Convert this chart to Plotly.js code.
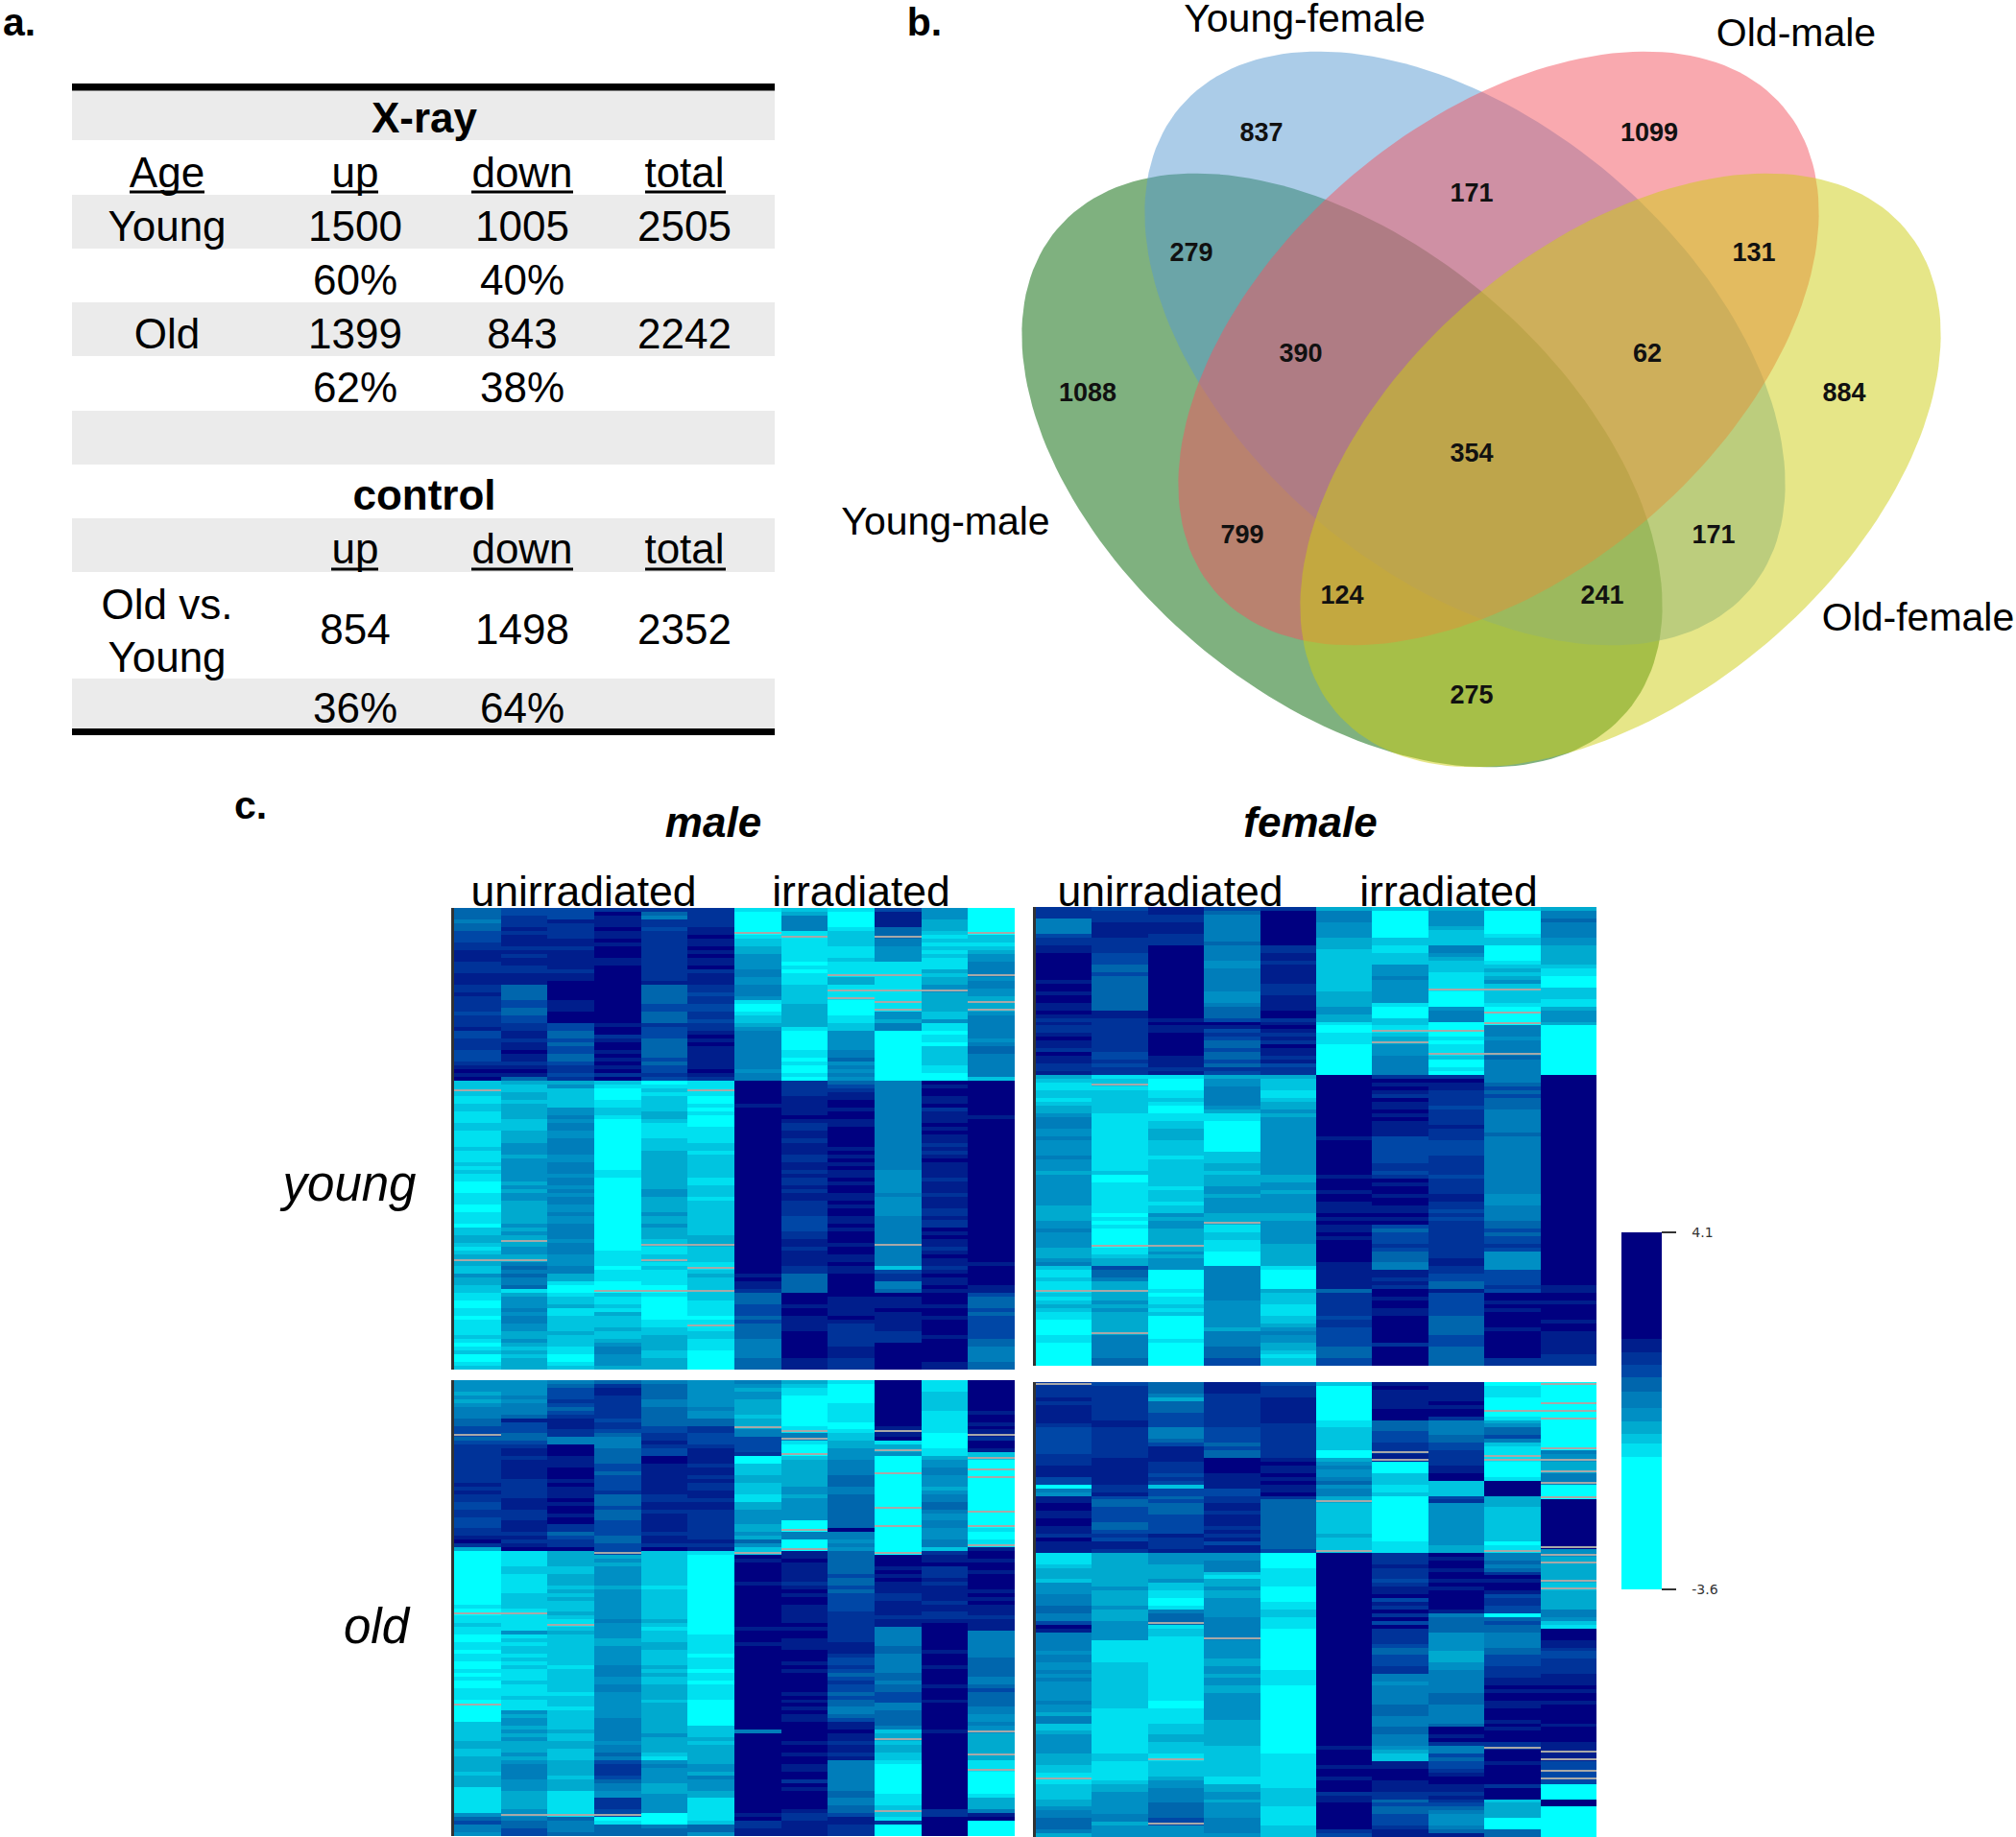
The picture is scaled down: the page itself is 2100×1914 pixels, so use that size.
<!DOCTYPE html>
<html>
<head>
<meta charset="utf-8">
<script src="https://cdn.plot.ly/plotly-3.0.1.min.js"></script>
<style>html,body{margin:0;padding:0;background:#fff}</style>
</head>
<body>
<div id="chart" style="width:2100px;height:1914px"></div>
<script>
// ---------- a. table ----------
const tableHeads = ["X-ray", "control"];
const tableBody = [
  "Age", "up", "down", "total",
  "Young", "1500", "1005", "2505",
  "60%", "40%",
  "Old", "1399", "843", "2242",
  "62%", "38%",
  "up", "down", "total",
  "Old vs.", "Young", "854", "1498", "2352",
  "36%", "64%"
];
// ---------- b. venn ----------
const vennSets = ["Young-male", "Young-female", "Old-male", "Old-female"];
const vennCounts = ["837", "1099", "171", "279", "131", "390", "62", "1088", "884", "354", "799", "171", "124", "241", "275"];
// ---------- c. heatmap labels ----------
const sexLabels = ["male", "female"];
const treatLabels = ["unirradiated", "irradiated", "unirradiated", "irradiated"];
const ageLabels = ["young", "old"];
const panelLetters = ["a.", "b.", "c."];
const colorbarTicks = [-3.6, 4.1];
const colorbarBounds = [-3.6, -0.75, -0.45, -0.24, 0.03, 0.32, 0.67, 0.97, 1.24, 1.51, 1.81, 4.1];
const levelValues = [-2.2, -0.6, -0.35, -0.1, 0.18, 0.5, 0.82, 1.1, 1.38, 1.66, 3.0];

// Expression levels, one string per sample column, top row first.
// 0 = lowest (cyan) ... 9, A = highest (navy), - = thin missing line (grey).
const youngMale = [
"6665667778 8999888999 8898888788 8977888777 89A9A22-21 1221112211 1121112121 1000111001 1102233212 3-32243322 1100110111 1210120012",
"7788898999 8989988999 6666776677 8899899A99 89A9632233 2333322233 3444344444 4343443333 334343-344 3-56565561 3444545544 3343232333",
"7779888899 899999899A AAAA999AAA 7766767766 7887834222 2244545544 5555445554 5545455445 4455554555 4445533100 1223112222 3222110012",
"8A999A99A9 AAA99AAAAA AAAAAAAAAA 9AA89AA9A9 A9A8A21000 1122100000 0000000011 0000000000 0000000001 111011100- 2112132223 2234554443",
"8658878888 8888888889 6666677666 8777666667 6778701212 2223321111 2223333333 3334433334 3343332-11 2-1211110- 1000000112 2333322333",
"8888899A99 A9A99A8999 8878877887 889A9A9999 99A9811-10 0101000111 1221222222 1122212222 2222233-22 221-23222- 22111101-1 2211100000",
"100000-122 3344445544 5554100122 3455555555 55455AAAAA A9AAAAAAAA AAAAAAAAAA AAAAAAAAAA AAAAAAAAAA AAAAA9A998 6667776766 6655555666",
"2355551-11 1111010111 2222233333 3100000110 1001088889 9999A98899 8999889989 8898998888 7777889989 9998866666 AAA9AA9999 AAAAAAA999",
"1000012222 1112111-33 1-1-000011 2244444556 4545467899 AA9AA99AAA AA9A9A9A99 A9AA99A9AA 99A9AAA9AA 99A99AAAAA A99999A988 8888999888",
"7999966-55 4444111-11 1-11-1-443 5500000000 0000055555 5555555555 5555555544 4444544444 5555555-55 5552788556 A999A99999 888AAAAAAA",
"4443332121 2121113233 4-33333224 1101102222 21100A9AA9 9A8999A9A9 98989A9999 8999899988 988A9A9989 A9989A99A9 AAA9AA9AAA A9AAAAAA99",
"000000-221 2344555-45 5443-3-455 5555456655 55552AAAAA AAAA9AAAAA AAAAAAAAAA AAAAAAAAAA AAAAAAAAAA AA9AAAAA99 7666767777 7766555566"
];
const youngFemale = [
"8885555788 99AAAAAAA9 AA9AA99A98 9889A998A9 9889321122 1233455544 5444454443 4444444433 3344544443 3345211211 -212321100 0011000000",
"7888999988 8877766766 6666666998 8888888877 878812-122 2222111111 1111111112 0011111111 01010000-1 1233766533 -334343333 3-55555566",
"9988999888 AAAAAAAAAA AAAAAAAAA9 A99AAAAAA9 9989100011 2100112233 3222212222 2221222122 43443333-3 4344400000 1011212000 0001000000",
"7655555556 5555445555 5544456667 A978766766 7687344555 5543110000 0000222332 3334434444 33-1122111 0000555555 5554444444 3555566677",
"8AAAAAAAAA 8899899999 8889999AA8 9A9898A998 9788322211 2334344444 4444444444 3344344444 3344444433 3333100000 3222111223 4544332122",
"3555444433 3222222222 2233334433 1001110000 0000AAAAAA AAAAAAAAAA 9AAAAAAAAA 9AAA9AA999 A9A99A9AAA AAA9999999 6888888788 7777766677",
"2000000022 1122244454 4444410002 21-23-4445 55558A9A98 A99A9A9999 7777777887 8A9AA9AA99 A9A7677787 6665599898 AA9AA99AAA AAAA8AAAAA",
"3444432222 5543222111 1-00004555 00-01011-2 00108A9988 8878888988 8777788888 7888899887 8788888888 8899887766 9777777666 6677766666",
"2000000122 0000123234 2-22210-00 -5554555-6 5555556767 6665555556 5555555555 5555544455 5566767787 4444477778 7AA9A9AAAA 9AAAAAAA88",
"3556555544 3333321100 0222113444 3000000000 0000AAAAAA AAAAAAAAAA AAAAAAAAAA AAAAAAAAAA AAAAAAAAAA AAAAAAAAA9 9AA9AAAA9A A999999888"
];
const oldMale = [
"4443434555 6677-67888 8888888989 8877887778 89A8300000 0000000001 0-11211001 1011001010 01110-0000 2222233223 3332333111 1111467554",
"4444545556 9777667899 8999998888 8999888999 8989A11112 2111112222 1-11114121 2212121112 1112111434 4343433343 4555544433 3334-56677",
"5677787678 9998855AAA 999AAA9A99 9A9AA9AA88 6788A33332 2333232322 2321-23222 2222212222 2212221222 2232233222 3333233311 1111-65556",
"6899888888 7887655566 6677677778 6667666777 76677-3434 4444344444 4445444433 4444455544 5544444445 5555545565 7888765544 8887-01666",
"5666655666 6677889877 AA99999999 8899899999 8998A22222 2222122222 2223212223 3222232322 3333233333 3334333321 4544443334 4444000566",
"4444444544 6688777899 9989989889 9899888888 8898910000 0000000000 0000000111 1101110110 1111000000 0222323333 3443544433 1111112664",
"5434433332 33-5577778 0022233222 1133444433 43642-A9AA AAA9AAAAAA AAAAA9AAA9 AAAAAAAAAA AAAAAAAAAA AA5AAAAAAA AAAAAAAAAA AAAA9A8899",
"3211000000 001-5-100- 2333333344 344444400- 5500-99A99 99989A9AA9 9999A9AA99 9AAA9A9AAA AA9A9A9A99 AAAAA9AA9A A99AA8A9AA AAA9889999",
"1000001111 1001223344 4555566655 666666666A 5545466666 6766767777 7888888889 9987787678 7767665567 99A9989989 5555555566 5566799888",
"AAAAAAAAAA AA9-9A13-4 0000-00000 000-0000-0 00000-AAA9 A9A9998899 9989955555 6655555665 6677755666 6523-23322 1000000001 112-218000",
"1112222211 1111000011 3445544434 5566544554 44552899A8 8898999989 9889AAAAAA A9AAA9AAAA 9AAA9AAAAA AA9AAAAAAA AAAAAAAAAA AAA88AAAAA",
"AAAAAAAA9A A9A9-8AA92 -00-0-0000 0000-000-1 001-9AA9AA 9AAAA9A9A9 9989995555 5556666655 6766665544 54-33333-3 11-0000001 33359A0000"
];
const oldFemale = [
"-888989999 9877777778 8899977054 99AA99AA99 8A99911123 3324445556 6557A95555 5455445454 4444544355 2234444433 3221-12222 3345566653",
"7888888888 9988888888 9999999889 7667777667 8799833333 3333433334 3334444411 1111222222 2222221111 1111111122 1111123344 4444553444",
"6665366677 7755567999 9888787277 6766677777 9888944433 3342211001 566-122111 1111111111 1111001111 222332221- 2222344555 566667-444",
"9998888888 8877776766 AAAA999977 8899899989 8979944555 2133433444 4455555-44 4443344344 3344444443 3333332222 2222113344 3444455554",
"7888999999 9888888888 9A99A9A99A 8666666666 6666700001 1111000011 2211100000 0000001111 0000000000 0000000011 1111111222 2211111222",
"2000000000 1122222200 3454456455 3-22222222 3222-AAAAA AAAAAAAAAA AAAAAAAAAA AAAAAAAAAA AAAAAAAAAA AAAAAA9AAA A9AA9AAA89 9AAAAAAA87",
"9A99999AAA 66677788-9 -000222112 0000000000 0011188898 887899A798 A8A7A88887 6677788554 5555566655 5665554322 99AAA99988 6766777899",
"99999A9AA8 5555667788 8899AA2222 7844444444 44433A9AA9 AA9A9AAAAA 9566664444 4333445555 5566655555 6AA9A85576 7789AA9989 8765444569",
"0111000-01 346675211- -00001AAAA 3332222222 2201-55656 8A9AA97887 7067665555 6677788899 A9AA99AAA9 A9AAA8-AAA 9AAAAA8AAA 2333300066",
"-0000-0-0- 0000000-54 -33-55-000 -AAAAAAAAA AAA-4-3-33 33-2-33333 55421AAA99 8778888999 A9AA9AAAAA 9AAAA99-9- 77-7-70000 AA00000000"
];

// ---------- styling and layout constants (page pixels) ----------
const W = 2100, H = 1914;
const SUBROWS = 4;
const levelColors = ["#00FFFF","#00E0F0","#00C4E0","#00AACF","#008FC4","#007DBA","#0066AD","#0047A6","#003399","#001E8C","#000080"];
const SANS = '"Liberation Sans", Arial, sans-serif';
const panels = [
  {data: youngMale,   px: [473, 1057, 946, 1427]},
  {data: youngFemale, px: [1079, 1663, 945, 1423]},
  {data: oldMale,     px: [473, 1057, 1438, 1913]},
  {data: oldFemale,   px: [1079, 1663, 1440, 1914]}
];
const vennGeom = [
  {cx: 1398, cy: 490, tilt: 40.3, color: "rgba(0,100,0,0.5)"},
  {cx: 1526, cy: 363, tilt: 40.3, color: "rgba(87,153,209,0.5)"},
  {cx: 1561, cy: 363, tilt: -40.3, color: "rgba(243,83,95,0.5)"},
  {cx: 1688, cy: 490, tilt: -40.3, color: "rgba(205,205,17,0.5)"}
];
const vennSemi = [389, 236];
const vennLabelX = [985, 1359, 1871, 1998], vennLabelY = [542, 18, 33, 642];
const vennCountX = [1314,1718,1533,1241,1827,1355,1716,1133,1921,1533,1294,1785,1398,1669,1533];
const vennCountY = [137,137,200,262,262,367,367,408,408,471,556,556,619,619,723];
const tableHeadX = [442, 442], tableHeadY = [122, 515];
const tableBodyX = [174,370,544,713, 174,370,544,713, 370,544, 174,370,544,713, 370,544, 370,544,713, 174,174,370,544,713, 370,544];
const tableBodyY = [179,179,179,179, 235,235,235,235, 291,291, 347,347,347,347, 403,403, 571,571,571, 629,684,655,655,655, 737,737];
const tableBands = [[94.5,146],[203,259],[315,371],[428,484],[540,596],[707,759]];
const tableRules = [[87,94.5],[759,766]];
const tableUnder = [[135,213,200],[345,394,200],[491,597,200],[672,756,200],[345,394,593],[491,597,593],[672,756,593]];

// ---------- traces ----------
function textTrace(x, y, text, size, weight, style, color) {
  const dy = size * 0.11;
  return {type: "scatter", mode: "text", x: x, y: y.map(v => v + dy), text: text, xaxis: "x", yaxis: "y",
    textposition: "middle center", cliponaxis: false, showlegend: false, hoverinfo: "skip",
    textfont: {family: SANS, size: size, weight: weight, style: style, color: color || "#000"}};
}
function ellipse(g) {
  const t = g.tilt * Math.PI / 180, xs = [], ys = [];
  for (let i = 0; i <= 180; i++) {
    const u = i / 180 * 2 * Math.PI;
    const a = vennSemi[0] * Math.cos(u), b = vennSemi[1] * Math.sin(u);
    xs.push(g.cx + a * Math.cos(t) - b * Math.sin(t));
    ys.push(g.cy + a * Math.sin(t) + b * Math.cos(t));
  }
  return {type: "scatter", mode: "lines", x: xs, y: ys, fill: "toself", fillcolor: g.color,
    line: {width: 0}, xaxis: "x", yaxis: "y", showlegend: false, hoverinfo: "skip"};
}
// Each read row is drawn as SUBROWS thin rows; a "-" row keeps the colour of its neighbours
// with only a thin grey (missing) line through its middle.
function toZ(cols) {
  const parsed = cols.map(c => c.replace(/ /g, ""));
  const n = Math.max.apply(null, parsed.map(c => c.length));
  const val = ch => levelValues[ch === "A" ? 10 : +ch];
  const z = [];
  for (let r = 0; r < n; r++) {
    for (let s = 0; s < SUBROWS; s++) {
      z.push(parsed.map(c => {
        const ch = c[r] === undefined ? c[c.length - 1] : c[r];
        if (ch !== "-") return val(ch);
        if (s === 1 || s === 2) return null;
        let k = r;
        while (k >= 0 && c[k] === "-") k--;
        if (k < 0) { k = r; while (c[k] === "-") k++; }
        return val(c[k]);
      }));
    }
  }
  return z;
}

const traces = [];
vennGeom.forEach(g => traces.push(ellipse(g)));
traces.push(textTrace(tableHeadX, tableHeadY, tableHeads, 44, 700, "normal"));
traces.push(textTrace(tableBodyX, tableBodyY, tableBody, 44, 400, "normal"));
traces.push(textTrace(vennLabelX, vennLabelY, vennSets, 41, 400, "normal"));
traces.push(textTrace(vennCountX, vennCountY, vennCounts, 27, 700, "normal", "#111"));
traces.push(textTrace([20, 963, 261], [22, 22, 838], panelLetters, 41, 700, "normal"));
traces.push(textTrace([743, 1365], [856, 856], sexLabels, 44, 700, "italic"));
traces.push(textTrace([608, 897, 1219, 1509], [928, 928, 928, 928], treatLabels, 44.5, 400, "normal"));
traces.push(textTrace([364, 392], [1233, 1694], ageLabels, 51, 400, "italic"));

const layout = {
  width: W, height: H, autosize: false,
  margin: {l: 0, r: 0, t: 0, b: 0, pad: 0, autoexpand: false},
  paper_bgcolor: "#fff", plot_bgcolor: "rgba(0,0,0,0)",
  showlegend: false,
  font: {family: SANS},
  xaxis: {range: [0, W], domain: [0, 1], visible: false, fixedrange: true},
  yaxis: {range: [H, 0], domain: [0, 1], visible: false, fixedrange: true},
  shapes: [],
  coloraxis: {
    cmin: colorbarBounds[0], cmax: colorbarBounds[colorbarBounds.length - 1],
    colorscale: (function () {
      const lo = colorbarBounds[0], span = colorbarBounds[colorbarBounds.length - 1] - lo, out = [];
      levelColors.forEach((c, i) => {
        out.push([(colorbarBounds[i] - lo) / span, c]);
        out.push([(colorbarBounds[i + 1] - lo) / span, c]);
      });
      return out;
    })(),
    colorbar: {
      x: 1689 / W, xanchor: "left", xref: "paper", y: 1 - 1284 / H, yanchor: "top", yref: "paper",
      len: 372, lenmode: "pixels", thickness: 42, thicknessmode: "pixels",
      xpad: 0, ypad: 0, outlinewidth: 0, borderwidth: 0,
      ticks: "outside", ticklen: 15, tickwidth: 1.5, tickcolor: "#333",
      tickmode: "array", tickvals: colorbarTicks, ticktext: colorbarTicks.map(v => "\u2003" + v.toFixed(1)),
      tickfont: {family: '"DejaVu Sans", sans-serif', size: 14, color: "#333"}
    }
  }
};

// table shapes
tableBands.forEach(b => layout.shapes.push({type: "rect", xref: "x", yref: "y", x0: 75, x1: 807, y0: b[0], y1: b[1],
  fillcolor: "#EBEBEB", line: {width: 0}, layer: "below"}));
tableRules.forEach(b => layout.shapes.push({type: "rect", xref: "x", yref: "y", x0: 75, x1: 807, y0: b[0], y1: b[1],
  fillcolor: "#000", line: {width: 0}, layer: "below"}));
tableUnder.forEach(u => layout.shapes.push({type: "line", xref: "x", yref: "y", x0: u[0], x1: u[1], y0: u[2], y1: u[2],
  line: {color: "#000", width: 3}, layer: "above"}));

// heatmap panels
panels.forEach((p, i) => {
  const k = i + 2, z = toZ(p.data), ncol = p.data.length, nrow = z.length;
  layout["xaxis" + k] = {domain: [p.px[0] / W, p.px[1] / W], range: [-0.5, ncol - 0.5], visible: false, fixedrange: true, anchor: "y" + k};
  layout["yaxis" + k] = {domain: [1 - p.px[3] / H, 1 - p.px[2] / H], range: [nrow - 0.5, -0.5], visible: false, fixedrange: true, anchor: "x" + k};
  traces.push({type: "heatmap", z: z, coloraxis: "coloraxis", xaxis: "x" + k, yaxis: "y" + k, hoverinfo: "skip"});
  layout.shapes.push({type: "rect", xref: "x" + k, yref: "y" + k, x0: -0.5, x1: ncol - 0.5, y0: -0.5, y1: nrow - 0.5,
    fillcolor: "#A8A8A8", line: {width: 0}, layer: "below"});
  layout.shapes.push({type: "rect", xref: "x", yref: "y", x0: p.px[0] - 3, x1: p.px[0], y0: p.px[2], y1: p.px[3],
    fillcolor: "#333", line: {width: 0}, layer: "above"});
});

Plotly.newPlot("chart", traces, layout, {staticPlot: true, displayModeBar: false});
</script>
</body>
</html>
